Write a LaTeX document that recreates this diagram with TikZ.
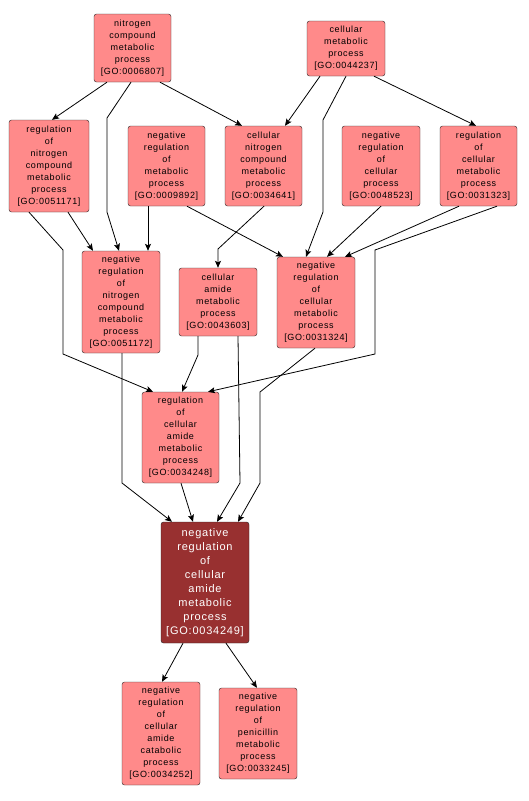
\documentclass[tikz,border=0pt]{standalone}
\usepackage{fontspec}
\newfontfamily\gofont[LetterSpace=7]{Liberation Sans}
\usetikzlibrary{arrows.meta}
\definecolor{termfill}{RGB}{255,138,138}
\definecolor{hitfill}{RGB}{152,48,48}
\begin{document}
\begin{tikzpicture}[x=1pt, y=-1pt, >={Stealth[length=7pt,width=6pt,inset=1.5pt]},
    term/.style={draw=black!85, fill=termfill, rounded corners=2.5pt, inner sep=0pt, align=center,
        font=\gofont\fontsize{9}{12}\selectfont},
    hit/.style={term, fill=hitfill, text=white, font=\gofont\fontsize{11}{14}\selectfont},
    edge/.style={->, line width=0.8pt}]
    \useasboundingbox (0,0) rectangle (528,801);

    % 顶层
    \node[term, minimum width=77, minimum height=68] (nitro) at (132.5,48) {nitrogen\\compound\\metabolic\\process\\{[GO:0006807]}};
    \node[term, minimum width=78, minimum height=55] (cellmet) at (346,48.5) {cellular\\metabolic\\process\\{[GO:0044237]}};

    % 第二层
    \node[term, minimum width=80, minimum height=92] (regnitro) at (49,166) {regulation\\of\\nitrogen\\compound\\metabolic\\process\\{[GO:0051171]}};
    \node[term, minimum width=77, minimum height=80] (negmet) at (166.5,166) {negative\\regulation\\of\\metabolic\\process\\{[GO:0009892]}};
    \node[term, minimum width=77, minimum height=80] (cellnitro) at (263.5,166) {cellular\\nitrogen\\compound\\metabolic\\process\\{[GO:0034641]}};
    \node[term, minimum width=78, minimum height=80] (negcell) at (381,166) {negative\\regulation\\of\\cellular\\process\\{[GO:0048523]}};
    \node[term, minimum width=77, minimum height=80] (regcellmet) at (478.5,166) {regulation\\of\\cellular\\metabolic\\process\\{[GO:0031323]}};

    % 第三层
    \node[term, minimum width=78, minimum height=102] (negnitro) at (121,302) {negative\\regulation\\of\\nitrogen\\compound\\metabolic\\process\\{[GO:0051172]}};
    \node[term, minimum width=78, minimum height=68] (amide) at (218,302) {cellular\\amide\\metabolic\\process\\{[GO:0043603]}};
    \node[term, minimum width=78, minimum height=91] (negcellmet) at (316,302.5) {negative\\regulation\\of\\cellular\\metabolic\\process\\{[GO:0031324]}};

    % 第四层
    \node[term, minimum width=77, minimum height=91] (regamide) at (180.5,437.5) {regulation\\of\\cellular\\amide\\metabolic\\process\\{[GO:0034248]}};

    % 目标
    \node[hit, minimum width=88, minimum height=121] (negamide) at (205,582.5) {negative\\regulation\\of\\cellular\\amide\\metabolic\\process\\{[GO:0034249]}};

    % 子项
    \node[term, minimum width=78, minimum height=103] (negcatab) at (161,733.5) {negative\\regulation\\of\\cellular\\amide\\catabolic\\process\\{[GO:0034252]}};
    \node[term, minimum width=78, minimum height=91] (negpenic) at (258,733.5) {negative\\regulation\\of\\penicillin\\metabolic\\process\\{[GO:0033245]}};

    % 连线
    \draw[edge] ([xshift=-25.5]nitro.south) -- ([xshift=3]regnitro.north);
    \draw[edge] ([xshift=-1.5]nitro.south) -- (107,118) -- (107,212) -- ([xshift=-2]negnitro.north);
    \draw[edge] ([xshift=27.5]nitro.south) -- ([xshift=-21.5]cellnitro.north);
    \draw[edge] ([xshift=-26]cellmet.south) -- ([xshift=21.5]cellnitro.north);
    \draw[edge] (cellmet.south) -- (323,120) -- (323,212) -- ([xshift=-10]negcellmet.north);
    \draw[edge] ([xshift=28]cellmet.south) -- ([xshift=-2.5]regcellmet.north);
    \draw[edge] ([xshift=19]regnitro.south) -- ([xshift=-28]negnitro.north);
    \draw[edge] ([xshift=-20]regnitro.south) -- (63,250) -- (63,354) -- ([xshift=-27.5]regamide.north);
    \draw[edge] ([xshift=-18.5]negmet.south) -- ([xshift=27]negnitro.north);
    \draw[edge] ([xshift=20.5]negmet.south) -- ([xshift=-33]negcellmet.north);
    \draw[edge] ([xshift=0.5]cellnitro.south) -- (218,249) -- (amide.north);
    \draw[edge] (negcell.south) -- ([xshift=11]negcellmet.north);
    \draw[edge] ([xshift=-19.5]regcellmet.south) -- ([xshift=29]negcellmet.north);
    \draw[edge] ([xshift=18.5]regcellmet.south) -- (375,250) -- (375,354) -- ([xshift=27.5]regamide.north);
    \draw[edge] ([xshift=1]negnitro.south) -- (122,483) -- ([xshift=-33]negamide.north);
    \draw[edge] ([xshift=-20]amide.south) -- (198,355) -- ([xshift=1.5]regamide.north);
    \draw[edge] ([xshift=20]amide.south) -- (240,483) -- ([xshift=12]negamide.north);
    \draw[edge] ([xshift=-1]negcellmet.south) -- (260,392) -- (260,483) -- ([xshift=33]negamide.north);
    \draw[edge] ([xshift=0.5]regamide.south) -- ([xshift=-12]negamide.north);
    \draw[edge] ([xshift=-22]negamide.south) -- ([xshift=1]negcatab.north);
    \draw[edge] ([xshift=21]negamide.south) -- ([xshift=-1]negpenic.north);
\end{tikzpicture}
\end{document}
